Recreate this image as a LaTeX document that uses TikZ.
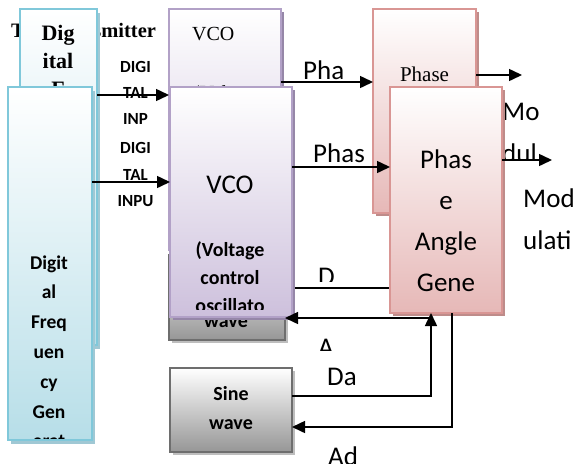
\documentclass[tikz,border=0pt]{standalone}
\usepackage{fontspec}
\setmainfont{Liberation Serif}
\newfontfamily\calfont{Carlito}
\usetikzlibrary{arrows.meta,shadows}

\definecolor{dgline}{RGB}{128,200,218}
\definecolor{dgfill}{RGB}{183,222,232}
\definecolor{dgshade}{RGB}{160,200,212}
\definecolor{vcoline}{RGB}{178,161,199}
\definecolor{vcofill}{RGB}{205,192,220}
\definecolor{vcoshade}{RGB}{150,135,168}
\definecolor{phline}{RGB}{217,150,148}
\definecolor{phfill}{RGB}{230,184,183}
\definecolor{phshade}{RGB}{190,140,138}
\definecolor{swline}{RGB}{110,110,110}
\definecolor{swfill}{RGB}{150,150,150}
\definecolor{swshade}{RGB}{190,190,190}

\tikzset{
  blk/.style={draw, line width=1.6pt, inner sep=0pt, outer sep=0pt, top color=white},
  dgbox/.style={blk, draw=dgline, bottom color=dgfill,
    drop shadow={shadow xshift=3pt, shadow yshift=-4pt, fill=dgshade, opacity=1}},
  vcobox/.style={blk, draw=vcoline, bottom color=vcofill,
    drop shadow={shadow xshift=3pt, shadow yshift=-3pt, fill=vcoshade, opacity=1}},
  phbox/.style={blk, draw=phline, bottom color=phfill,
    drop shadow={shadow xshift=3pt, shadow yshift=-3pt, fill=phshade, opacity=1}},
  swbox/.style={blk, draw=swline, bottom color=swfill,
    drop shadow={shadow xshift=3pt, shadow yshift=-3pt, fill=swshade, opacity=1}},
  arr/.style={line width=1.5pt, -{Triangle[length=13pt,width=12pt]}},
  wire/.style={line width=1.5pt},
  lbl/.style={font=\calfont\fontsize{27}{27}\selectfont, anchor=base west, inner sep=0pt},
  bigtxt/.style={font=\calfont\fontsize{27}{27}\selectfont, anchor=base, inner sep=0pt},
  boldtxt/.style={font=\calfont\bfseries\fontsize{19.5}{19.5}\selectfont, anchor=base, inner sep=0pt},
  inptxt/.style={font=\calfont\bfseries\fontsize{17}{17}\selectfont, anchor=base, inner sep=0pt},
  seriftxt/.style={font=\fontsize{20}{20}\selectfont, inner sep=0pt},
  titletxt/.style={font=\bfseries\fontsize{20.5}{20.5}\selectfont, anchor=base west, inner sep=0pt}
}

\begin{document}
\begin{tikzpicture}[x=1pt,y=-1pt]
  \useasboundingbox[fill=white] (0,0) rectangle (577,463);
  % title, partly hidden by the back boxes
  \node[titletxt] (title) at (11,37) {The Transmitter};

  % back copy of the blocks
  \node[dgbox, minimum width=77pt, minimum height=336pt] (dgback) at (58.5,177) {};
  \node[vcobox, minimum width=112pt, minimum height=241pt] (vcoback) at (225,129.5) {};
  \node[phbox, minimum width=103pt, minimum height=204pt] (phback) at (424.5,111) {};
  \node[swbox, minimum width=116pt, minimum height=85pt] (swback) at (227,297.5) {};
  \begin{scope}
    \clip (dgback.north west) rectangle (dgback.south east);
    \foreach \txt/\yy [count=\i] in {Dig/40, ital/68, F/96}
      \node[seriftxt, font=\bfseries\fontsize{22}{22}\selectfont, anchor=base] (dgbt\i) at (58,\yy) {\txt};
  \end{scope}
  \node[seriftxt, anchor=base west] (vcobt1) at (192,40) {VCO};
  \node[seriftxt, anchor=base west] (vcobt2) at (193,99) {(Voltag};
  \node[seriftxt, font=\fontsize{21}{21}\selectfont, anchor=base] (phbt) at (424.5,81) {Phase};
  \node[boldtxt, font=\calfont\bfseries\fontsize{20}{20}\selectfont] (swbt) at (226,327) {wave};
  \foreach \txt/\yy [count=\i] in {DIGI/72, TAL/98, INP/124}
    \node[inptxt] (inpb\i) at (135.5,\yy) {\txt};
  \node[lbl] (phalbl) at (303,79) {Pha};
  \begin{scope}
    \clip (500,90) rectangle (565,158);
    \node[lbl] (molbl) at (502,120) {Mo};
    \node[lbl] (dullbl) at (502,162) {dul};
  \end{scope}
  \begin{scope}
    \clip (300,250) rectangle (360,281);
    \node[lbl] (dlbl) at (318,285) {D};
  \end{scope}
  \begin{scope}
    \clip (300,320) rectangle (360,350);
    \node[lbl] (albl) at (318,356) {A};
  \end{scope}
  \draw[arr] ([yshift=-86pt]dgback.north east) -- ([yshift=-86pt]vcoback.north west);
  \draw[arr] ([yshift=-73pt]vcoback.north east) -- ([yshift=-73pt]phback.north west);
  \coordinate (phout) at (522,75);
  \draw[arr] ([yshift=-66pt]phback.north east) -- (phout);
  \draw[wire] ([yshift=-33pt]swback.north east) -- (390,288);

  % front copy of the blocks
  \node[dgbox, minimum width=84pt, minimum height=353pt] (dgfront) at (50,263.5) {};
  \node[vcobox, minimum width=122pt, minimum height=230pt] (vcofront) at (231,202) {};
  \node[phbox, minimum width=112pt, minimum height=226pt] (pafront) at (446,200) {};
  \node[swbox, minimum width=122pt, minimum height=84pt] (swfront) at (231,410) {};
  \begin{scope}
    \clip (dgfront.north west) rectangle ([yshift=2pt]dgfront.south east);
    \foreach \txt/\yy [count=\i] in {Digit/269, al/298.8, Freq/328.6, uen/358.4, cy/388.2, Gen/418, erat/447.8}
      \node[boldtxt] (dgft\i) at (49,\yy) {\txt};
  \end{scope}
  \begin{scope}
    \clip (vcofront.north west) rectangle ([yshift=8pt]vcofront.south east);
    \node[bigtxt] (vcoft) at (230,193) {VCO};
    \node[boldtxt, font=\calfont\bfseries\fontsize{20}{20}\selectfont] (vcoft1) at (230,256) {(Voltage};
    \node[boldtxt, font=\calfont\bfseries\fontsize{20}{20}\selectfont] (vcoft2) at (230,284) {control};
    \node[boldtxt, font=\calfont\bfseries\fontsize{20}{20}\selectfont] (vcoft3) at (230,312) {oscillato};
  \end{scope}
  \foreach \txt/\yy [count=\i] in {Phas/168, e/209, Angle/250, Gene/291}
    \node[bigtxt] (paft\i) at (446,\yy) {\txt};
  \foreach \txt/\yy [count=\i] in {Sine/400, wave/429}
    \node[boldtxt, font=\calfont\bfseries\fontsize{20}{20}\selectfont] (swft\i) at (231,\yy) {\txt};
  \foreach \txt/\yy [count=\i] in {DIGI/153, TAL/180, INPU/206}
    \node[inptxt] (inpf\i) at (135.5,\yy) {\txt};
  \node[lbl] (phaslbl) at (313,162) {Phas};
  \node[lbl] (modlbl) at (523,207) {Mod};
  \node[lbl] (ulatilbl) at (523,249) {ulati};
  \node[lbl] (dalbl) at (327,385) {Da};
  \node[lbl] (adlbl) at (328,465) {Ad};

  % connectors
  \draw[arr] ([yshift=-95pt]dgfront.north east) -- ([yshift=-95pt]vcofront.north west);
  \draw[arr] ([yshift=-80pt]vcofront.north east) -- ([yshift=-80pt]pafront.north west);
  \coordinate (modout) at (552,160);
  \draw[arr] ([yshift=-73pt]pafront.north east) -- (modout);
  \draw[arr] ([yshift=-28pt]swfront.north east) -| ([xshift=-15pt]pafront.south);
  \draw[arr] ([xshift=6pt]pafront.south) |- ([yshift=-59pt]swfront.north east);
  \coordinate (adback) at (431,318);
  \draw[arr] (adback) -- ([yshift=-63pt]swback.north east);
\end{tikzpicture}
\end{document}
